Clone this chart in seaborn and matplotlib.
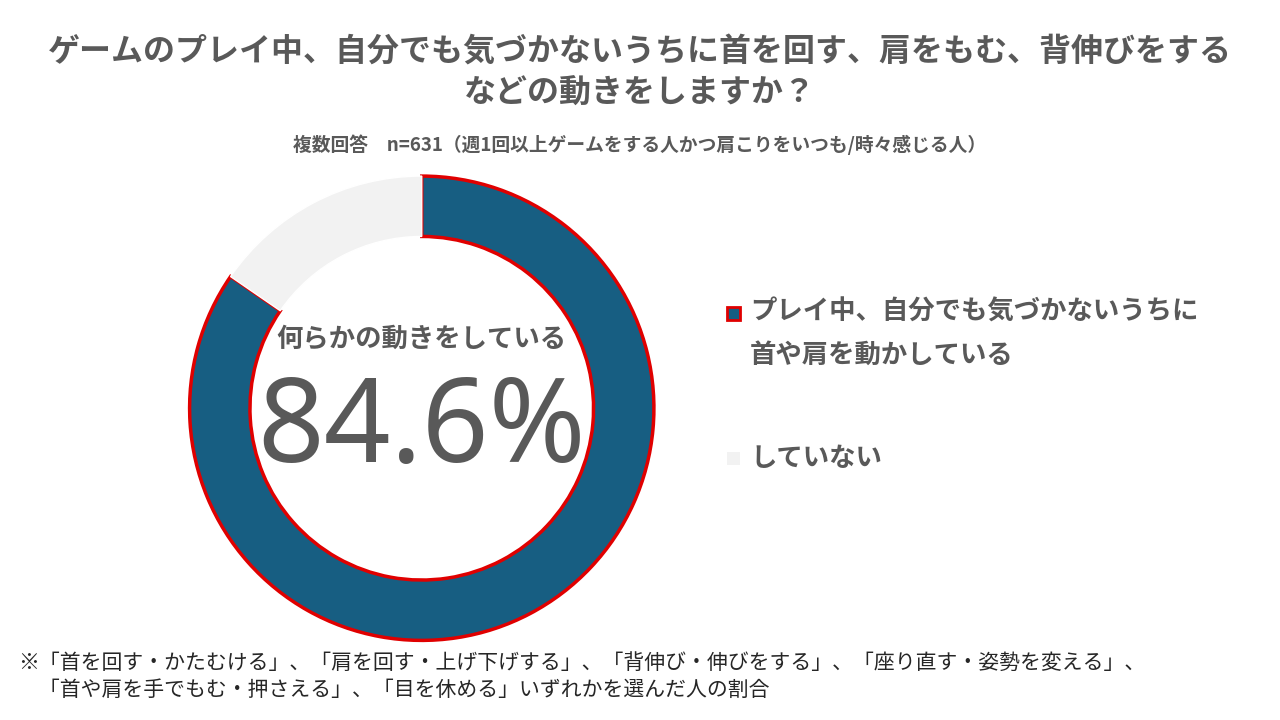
import matplotlib
matplotlib.use("Agg")
import matplotlib.pyplot as plt
import seaborn as sns

labels = ["プレイ中、自分でも気づかないうちに\n首や肩を動かしている", "していない"]
values = [84.6, 15.4]
colors = ["#175E82", "#F2F2F2"]

sns.set_theme(style="white")
plt.rcParams['font.family'] = ['Noto Sans CJK JP', 'DejaVu Sans']

fig = plt.figure(figsize=(12.8, 7.2), dpi=100)
ax = fig.add_axes([0.1445, 0.104, 0.37, 0.658])
wedges, _ = ax.pie(values, colors=colors, startangle=90, counterclock=False,
                   radius=1.0, wedgeprops=dict(width=0.26, linewidth=2.5))
wedges[0].set_edgecolor("#E00000")
wedges[1].set_edgecolor("white")
wedges[1].set_linewidth(1)
ax.set_aspect("equal")
ax.set_xlim(-1.02, 1.02); ax.set_ylim(-1.02, 1.02)
ax.axis("off")

ax.text(0, 0.30, "何らかの動きをしている", ha="center", va="center", fontsize=19,
        fontweight="bold", color="#595959")
ax.text(0, -0.10, f"{values[0]}%", ha="center", va="center", fontsize=84,
        fontweight="bold", color="#595959", family=["Noto Sans", "DejaVu Sans"])

gc = "#595959"
fig.text(0.5, 0.927, "ゲームのプレイ中、自分でも気づかないうちに首を回す、肩をもむ、背伸びをする",
         ha="center", va="center", fontsize=23, fontweight="bold", color=gc)
fig.text(0.5, 0.870, "などの動きをしますか？", ha="center", va="center", fontsize=23,
         fontweight="bold", color=gc)
fig.text(0.5, 0.799, "複数回答　n=631（週1回以上ゲームをする人かつ肩こりをいつも/時々感じる人）",
         ha="center", va="center", fontsize=13.5, fontweight="bold", color=gc)

fig.patches.append(plt.Rectangle((727/1280, 1-320/720), 13/1280, 13/720, transform=fig.transFigure,
                                 facecolor=colors[0], edgecolor="#E00000", linewidth=2))
fig.patches.append(plt.Rectangle((727/1280, 1-465/720), 13/1280, 13/720, transform=fig.transFigure,
                                 facecolor=colors[1], edgecolor="none"))
fig.text(750/1280, 1-312/720, "プレイ中、自分でも気づかないうちに", va="center", fontsize=19,
         fontweight="bold", color=gc)
fig.text(750/1280, 1-355/720, "首や肩を動かしている", va="center", fontsize=19,
         fontweight="bold", color=gc)
fig.text(750/1280, 1-458/720, labels[1], va="center", fontsize=19, fontweight="bold", color=gc)

fc = "#262626"
fig.text(18/1280, 1-663/720, "※「首を回す・かたむける」、「肩を回す・上げ下げする」、「背伸び・伸びをする」、「座り直す・姿勢を変える」、",
         va="center", fontsize=15, color=fc)
fig.text(18/1280, 1-690/720, "　「首や肩を手でもむ・押さえる」、「目を休める」いずれかを選んだ人の割合",
         va="center", fontsize=15, color=fc)

fig.savefig("out.png", dpi=100, facecolor="white")
